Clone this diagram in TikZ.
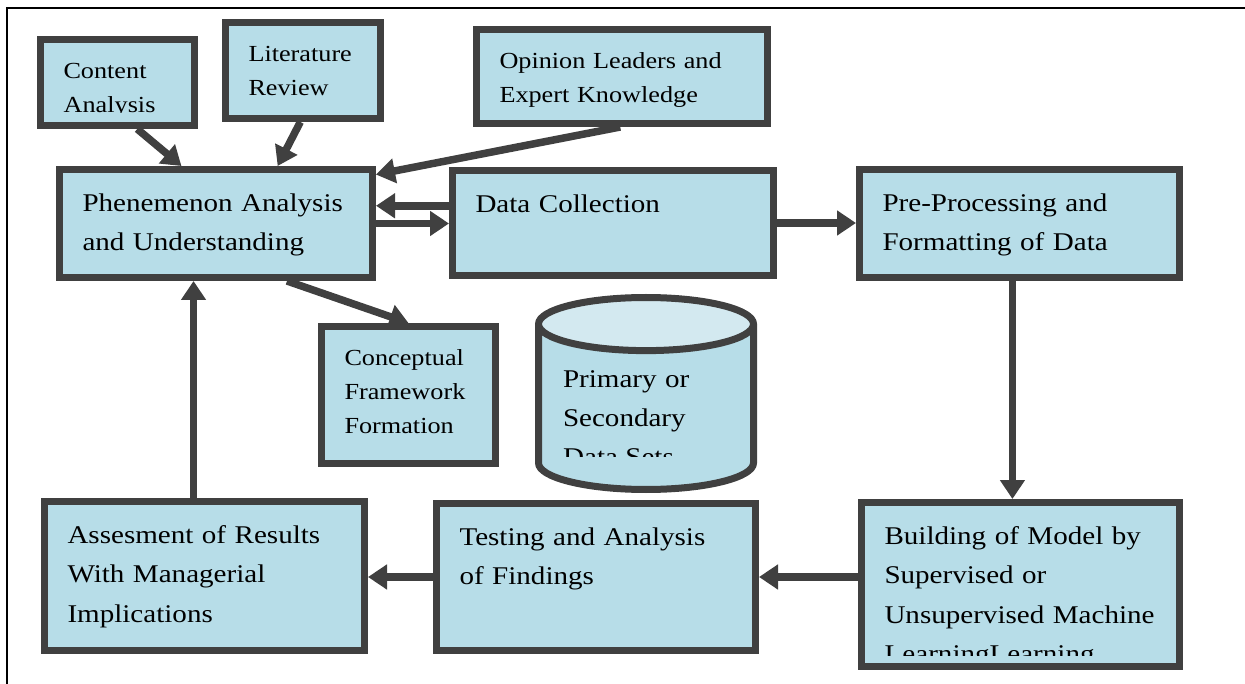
\documentclass[tikz,border=0pt]{standalone}
\usepackage{fontspec}
\setmainfont{Liberation Serif}[FakeStretch=1.14]
\usetikzlibrary{arrows.meta, shapes.geometric, shadows, calc}

\definecolor{cellblue}{HTML}{B7DDE8}
\definecolor{dbtop}{HTML}{D3E9F0}
\definecolor{edge}{HTML}{404040}

\newcommand\mainfnt{\fontsize{25.5}{39.5}\selectfont}
\newcommand\smallfnt{\fontsize{23}{34}\selectfont}

\begin{document}
\begin{tikzpicture}[
  x=1pt, y=-1pt,
  lift/.style={drop shadow={shadow xshift=3pt, shadow yshift=-3pt, opacity=.25}},
  cell/.style 2 args={rectangle, draw=edge, line width=7pt, fill=cellblue, lift,
              align=left, font=\mainfnt, inner xsep=23pt, inner ysep=14pt,
              /utils/exec={\pgfmathsetlengthmacro\cellw{#1-46pt}%
                           \pgfmathsetlengthmacro\celld{#2-55.6pt}},
              text width=\cellw, text height=27.6pt, text depth=\celld},
  note/.style 2 args={cell={#1}{#2}, font=\smallfnt, inner ysep=15.5pt,
              /utils/exec={\pgfmathsetlengthmacro\celld{#2-54.8pt}},
              text height=23.8pt},
  store/.style={cylinder, shape border rotate=90, aspect=0.32, draw=edge,
              line width=7pt, cylinder uses custom fill, cylinder end fill=dbtop,
              cylinder body fill=cellblue, minimum width=215pt,
              minimum height=192pt, inner sep=0pt, align=left, font=\mainfnt,
              text width=166pt, text height=27.6pt, text depth=70.6pt},
  tail/.style={anchor=base west, inner sep=0pt},
  arr/.style={draw=edge, line width=7.5pt, -{Triangle[length=19pt, width=24pt]}},
  ]
  \useasboundingbox (0,0) rectangle (1245,684);
  %% page frame (top and left only)
  \draw[line width=2.5pt] (1245,8) -- (7,8) -- (7,684);

  %% Nodes: three sources, top row, middle pair, bottom row
  \node[note={154}{86}]  (ca)   at (117.5, 82.5) {Content};
  \node[note={155}{96}]  (lit)  at (303,   70.5) {Literature\\Review};
  \node[note={291}{94}]  (op)   at (622,   76.5) {Opinion Leaders and\\Expert Knowledge};
  \node[cell={313}{108}] (phen) at (216,  223.5) {Phenemenon Analysis\\and Understanding};
  \node[cell={321}{105}] (dc)   at (613,  223)   {Data Collection};
  \node[cell={320}{108}] (pp)   at (1019.5,223.5){Pre-Processing and\\Formatting of Data};
  \node[note={174}{137}] (cf)   at (408.5, 395)  {Conceptual\\Framework\\Formation};
  \node[store, anchor=shape center] (db) at (646, 393.5) {Primary or\\Secondary};
  \node[cell={320}{149}] (as)   at (204.5, 576)  {Assesment of Results\\With Managerial\\Implications};
  \node[cell={319}{147}] (tf)   at (596,   577)  {Testing and Analysis\\of Findings};
  \node[cell={318}{164}] (bm)   at (1020.5,584.5){Building of Model by\\Supervised or\\Unsupervised Machine};

  %% lines cut off by the text frames
  \begin{scope}
    \clip (ca.north west) rectangle ($(ca.north east)+(0,77)$);
    \node[tail, font=\smallfnt] (catail) at ($(ca.north west)+(26.5,76.6)$) {Analysis};
  \end{scope}
  \begin{scope}
    \clip (db.west |- db.north) rectangle ($(db.east |- db.north)+(0,162)$);
    \node[tail, font=\mainfnt] (dbtail) at ($(db.west |- db.north)+(28,171)$) {Data Sets};
  \end{scope}
  \begin{scope}
    \clip (bm.north west) rectangle ($(bm.north east)+(0,156)$);
    \node[tail, font=\mainfnt] (bmtail) at ($(bm.north west)+(26.5,163.6)$) {LearningLearning};
  \end{scope}

  %% inputs into the analysis box
  \draw[arr] (ca.-67)  -- (phen.121);
  \draw[arr] (lit.-93) -- (phen.43);
  \draw[arr] (op.-92)  -- (phen.17.7);
  % two-way link with data collection
  \draw[arr] (dc.174.4) -- (dc.174.4 -| phen.east);
  \draw[arr] (phen.east) -- (phen.east -| dc.west);
  \draw[arr] (phen.-39.8) -- (cf.north);
  % main loop
  \draw[arr] (dc.east) -- (dc.east -| pp.west);
  \draw[arr] (pp.-97) -- (pp.-97 |- bm.north);
  \draw[arr] (bm.west |- tf.east) -- (tf.east);
  \draw[arr] (tf.west) -- (tf.west -| as.east);
  \draw[arr] (as.98) -- (as.98 |- phen.south);
\end{tikzpicture}
\end{document}
